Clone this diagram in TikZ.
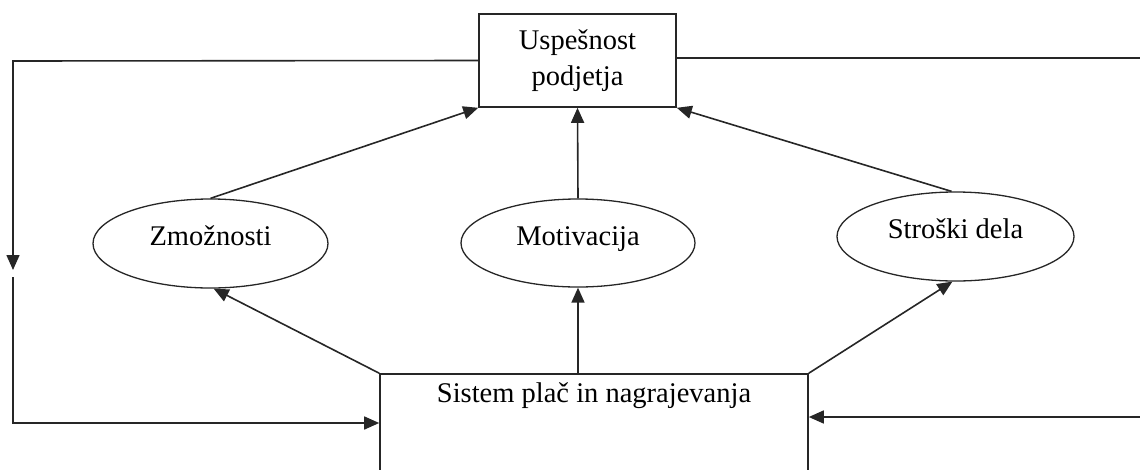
\documentclass[tikz,border=0pt]{standalone}
\usepackage{fontspec}
\setmainfont{Liberation Serif}
\usetikzlibrary{arrows.meta,calc,shapes.geometric}
\begin{document}
\begin{tikzpicture}[x=1pt,y=-1pt,
  every node/.style={font=\fontsize{28.5}{36}\selectfont},
  line/.style={draw=black!85,line width=1.6pt},
  arr/.style={line,-{Triangle[length=15pt,width=13pt]}},
  boxnode/.style={draw=black!85,line width=1.6pt,rectangle,inner sep=0pt},
  ell/.style={draw=black!85,line width=1.3pt,ellipse,inner sep=0pt,text height=18pt,text depth=13.5pt},
]
\useasboundingbox (0,0) rectangle (1140,469);
\clip (0,0) rectangle (1140,469);
\node[boxnode,minimum width=197pt,minimum height=93pt,align=center] (usp) at (577.5,60.5) {Uspešnost\\podjetja};
\node[boxnode,minimum width=428pt,minimum height=126pt,
  label={[anchor=north,yshift=-6pt]north:Sistem plač in nagrajevanja}] (sis) at (594,437) {};
\node[ell,minimum width=235pt,minimum height=89pt] (zmo) at (210.5,243.5) {Zmožnosti};
\node[ell,minimum width=234pt,minimum height=88pt] (mot) at (578,243) {Motivacija};
\node[ell,minimum width=237pt,minimum height=89pt] (str) at (955.5,236.5) {Stroški dela};
\coordinate (lt) at (13,61);
\coordinate (ltend) at (13,270);
\coordinate (lb) at (13,277);
\coordinate (lbc) at (13,423);
\coordinate (rt) at (1140,58);
\coordinate (rb) at (1140,417);
\draw[arr] (usp.west) -- (lt) -- (ltend);
\draw[arr] (lb) -- (lbc) -- (lbc -| sis.west);
\draw[line] (usp.east |- rt) -- (rt);
\draw[arr] (rb) -- (rb -| sis.east);
\draw[arr] (zmo.north) -- (usp.south west);
\draw[arr] (mot.north) -- (usp.south);
\draw[arr] (str.95) -- (usp.south east);
\draw[arr] (sis.north west) -- (zmo.-86);
\draw[arr] (mot.south |- sis.north) -- (mot.south);
\draw[arr] (sis.north east) -- (str.-94);
\end{tikzpicture}
\end{document}
